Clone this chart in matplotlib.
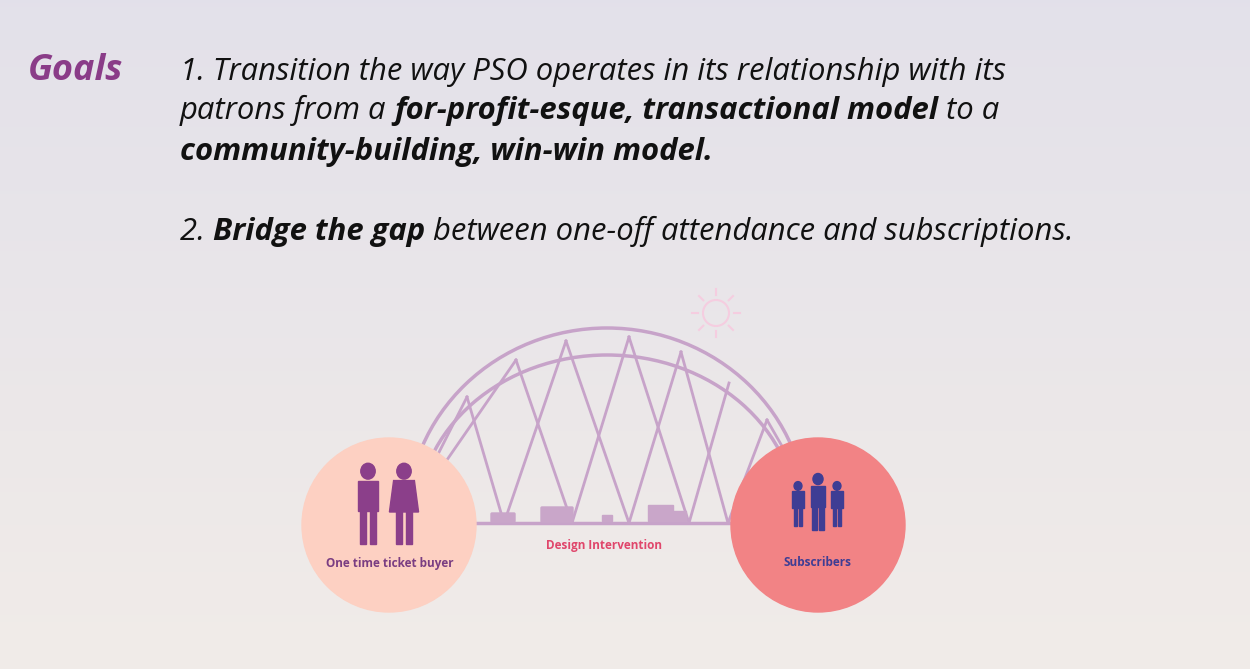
import numpy as np
import matplotlib.pyplot as plt
from matplotlib.patches import Circle, Arc, Rectangle, FancyBboxPatch, Ellipse

# slide content
TITLE = 'Goals'
LINE1 = [('1. Transition the way PSO operates in its relationship with its', 'normal')]
LINE2 = [('patrons from a ', 'normal'), ('for-profit-esque, transactional model', 'bold'), (' to a', 'normal')]
LINE3 = [('community-building, win-win model.', 'bold')]
LINE4 = [('2. ', 'normal'), ('Bridge the gap', 'bold'), (' between one-off attendance and subscriptions.', 'normal')]
LEFT_LABEL = 'One time ticket buyer'
RIGHT_LABEL = 'Subscribers'
MID_LABEL = 'Design Intervention'

# bridge truss nodes (pixel space)
TOP_X = [467, 516, 566, 629, 681, 729, 767]
TOP_Y = [397, 360, 341, 337, 352, 383, 420]
BOT_X = [504, 572, 629, 689, 728]
LINKS = [(0, 0), (0, 2), (1, 1), (1, 3), (2, 2), (2, 4), (3, 3), (3, 5), (4, 4), (4, 6)]

W, H = 1250, 669
fig = plt.figure(figsize=(12.5, 6.69), dpi=100)
ax = fig.add_axes([0, 0, 1, 1])
ax.set_xlim(0, W)
ax.set_ylim(H, 0)
ax.axis('off')

# background gradient
top = np.array([0.890, 0.882, 0.918])
bot = np.array([0.945, 0.925, 0.910])
t = np.linspace(0, 1, 200)[:, None]
grad = top + (bot - top) * t
ax.imshow(grad[:, None, :].repeat(2, axis=1), extent=[0, W, H, 0], aspect='auto', zorder=0)

ax.text(28, 80, TITLE, fontsize=26, fontweight='bold', style='italic',
        color='#8a3c88', family='Open Sans', va='baseline', zorder=5)

fig.canvas.draw()
rend = fig.canvas.get_renderer()


def draw_line(parts, x, y):
    for txt, w in parts:
        tt = ax.text(x, y, txt, fontsize=22.3, style='italic', fontweight=w,
                     color='#111111', family='Open Sans', va='baseline', zorder=5)
        bb = tt.get_window_extent(rend)
        x += bb.width


draw_line(LINE1, 180, 80)
draw_line(LINE2, 180, 119)
draw_line(LINE3, 180, 160)
draw_line(LINE4, 180, 240)

bc = '#c7a3c9'
# arcs (y axis is inverted, so the upper half is 180..360)
ax.add_patch(Arc((607, 520), 400, 384, theta1=180, theta2=360, color=bc, lw=2.5, zorder=2))
ax.add_patch(Arc((607, 520), 380, 330, theta1=180, theta2=360, color=bc, lw=2.5, zorder=2))
# deck
ax.plot([440, 740], [523, 523], color=bc, lw=2.5, zorder=2)
# truss
for b, tp in LINKS:
    ax.plot([BOT_X[b], TOP_X[tp]], [523, TOP_Y[tp]], color=bc, lw=2, zorder=2)
ax.plot([TOP_X[0], 430], [TOP_Y[0], 470], color=bc, lw=2, zorder=2)
ax.plot([TOP_X[1], 440], [TOP_Y[1], 470], color=bc, lw=2, zorder=2)
ax.plot([TOP_X[6], 790], [TOP_Y[6], 460], color=bc, lw=2, zorder=2)

# vehicles
vc = '#c9a6c9'
ax.add_patch(FancyBboxPatch((492, 514), 22, 7, boxstyle='round,pad=1', color=vc, zorder=3))
ax.add_patch(FancyBboxPatch((542, 508), 30, 13, boxstyle='round,pad=1', color=vc, zorder=3))
ax.add_patch(Rectangle((602, 515), 10, 6, color=vc, zorder=3))
ax.add_patch(Rectangle((648, 505), 25, 16, color=vc, zorder=3))
ax.add_patch(Rectangle((673, 511), 13, 10, color=vc, zorder=3))

# sun
ax.add_patch(Circle((716, 313), 13, fill=False, ec='#f5cde0', lw=1.5, zorder=2))
for a in np.linspace(0, 2 * np.pi, 8, endpoint=False):
    ax.plot([716 + 18 * np.cos(a), 716 + 24 * np.cos(a)],
            [313 + 18 * np.sin(a), 313 + 24 * np.sin(a)], color='#f5cde0', lw=1.5, zorder=2)

# circles
ax.add_patch(Circle((389, 525), 87, color='#fdd0c2', zorder=4))
ax.add_patch(Circle((818, 525), 87, color='#f28385', zorder=4))


def person(cx, top_y, h, color, skirt=False):
    r = h * 0.09
    ax.add_patch(Ellipse((cx, top_y + r), 2 * r, 2.2 * r, color=color, zorder=6))
    bw = h * 0.26
    if skirt:
        ax.fill([cx - bw / 2, cx + bw / 2, cx + bw * 0.7, cx - bw * 0.7],
                [top_y + 2.3 * r, top_y + 2.3 * r, top_y + h * 0.6, top_y + h * 0.6], color=color, zorder=6)
    else:
        ax.add_patch(Rectangle((cx - bw / 2, top_y + 2.3 * r), bw, h * 0.38, color=color, zorder=6))
    lw_ = bw * 0.3
    ax.add_patch(Rectangle((cx - bw / 2 + bw * 0.12, top_y + h * 0.55), lw_, h * 0.45, color=color, zorder=6))
    ax.add_patch(Rectangle((cx + bw / 2 - bw * 0.12 - lw_, top_y + h * 0.55), lw_, h * 0.45, color=color, zorder=6))


person(368, 464, 80, '#8b3f8a')
person(404, 464, 80, '#8b3f8a', skirt=True)
person(798, 482, 44, '#3e3d94')
person(818, 474, 56, '#3e3d94')
person(837, 482, 44, '#3e3d94')

ax.text(390, 563, LEFT_LABEL, fontsize=8.5, fontweight='bold', color='#7a3d82',
        family='Open Sans', ha='center', va='center', zorder=7)
ax.text(818, 563, RIGHT_LABEL, fontsize=8.5, fontweight='bold', color='#3e3d94',
        family='Open Sans', ha='center', va='center', zorder=7)
ax.text(604, 545, MID_LABEL, fontsize=8.5, fontweight='bold', color='#e0466b',
        family='Open Sans', ha='center', va='center', zorder=7)

fig.savefig('out.png', dpi=100)
